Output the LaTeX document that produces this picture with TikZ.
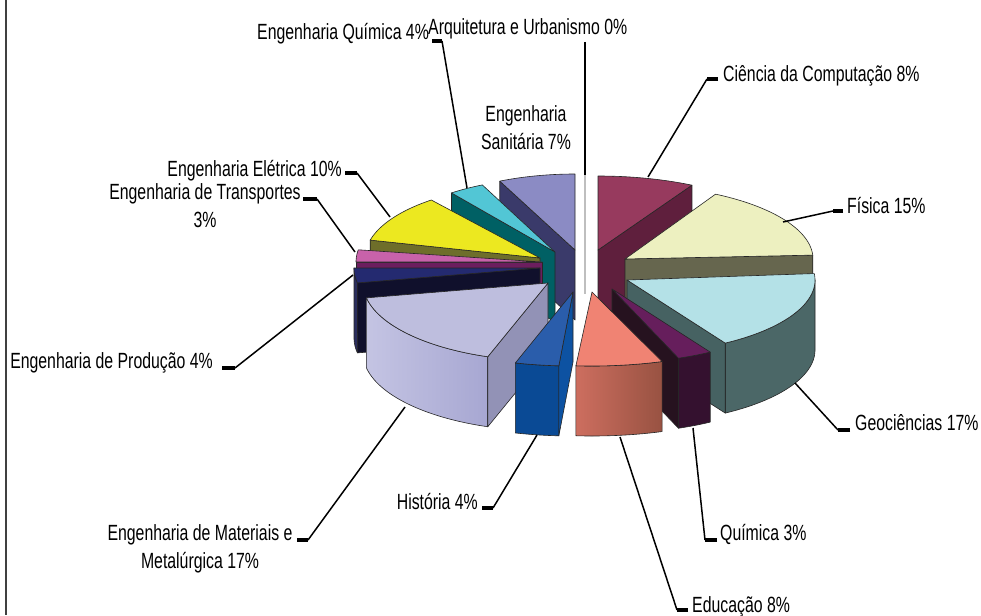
\documentclass[tikz,border=0pt]{standalone}
\usepackage{fontspec}
\setmainfont[FakeStretch=0.72]{Liberation Sans}

% slice colours: top face, radial cut face, outer wall
\definecolor{ccTop}{HTML}{973A5E}\definecolor{ccCut}{HTML}{5F1F3D}
\definecolor{fiTop}{HTML}{EDF0C0}\definecolor{fiCut}{HTML}{66664E}
\definecolor{geTop}{HTML}{B4E1E7}\definecolor{geCut}{HTML}{466262}\definecolor{geSide}{HTML}{4B6767}
\definecolor{quTop}{HTML}{661E5C}\definecolor{quCut}{HTML}{26121F}\definecolor{quSide}{HTML}{34112F}
\definecolor{edTop}{HTML}{F08373}\definecolor{edSideL}{HTML}{CD6E5F}\definecolor{edSideR}{HTML}{985242}
\definecolor{hiTop}{HTML}{2A5DAB}\definecolor{hiCut}{HTML}{0D52A2}\definecolor{hiSide}{HTML}{0A4A95}
\definecolor{emTop}{HTML}{BEBEDE}\definecolor{emCut}{HTML}{9292B6}\definecolor{emSideL}{HTML}{C4C4E3}\definecolor{emSideR}{HTML}{A7A7D2}
\definecolor{epTop}{HTML}{242A70}\definecolor{epCut}{HTML}{10102C}\definecolor{epSide}{HTML}{2B2E5E}
\definecolor{etTop}{HTML}{C862AA}\definecolor{etCut}{HTML}{6C1E5E}
\definecolor{eeTop}{HTML}{ECE820}\definecolor{eeCut}{HTML}{6E6E2A}
\definecolor{eqTop}{HTML}{52C6D5}\definecolor{eqCut}{HTML}{006064}
\definecolor{esTop}{HTML}{8B8BC4}\definecolor{esCut}{HTML}{3A3A6A}

% depth of the pie and the current slice (apex x, apex y, x radius, y radius)
\newcommand{\SH}{70}
\newcommand{\setslice}[4]{\def\SAx{#1}\def\SAy{#2}\def\SRx{#3}\def\SRy{#4}}
% top face between two angles (clockwise from the back)
\newcommand{\topface}[3]{%
  \path[face,fill=#3] (\SAx,\SAy)
    -- plot[domain=#1:#2,samples=40] ({\SAx+\SRx*sin(\x)},{\SAy-\SRy*cos(\x)}) -- cycle;}
% radial cut face at one angle
\newcommand{\cutface}[2]{%
  \path[face,fill=#2] (\SAx,\SAy)
    -- ({\SAx+\SRx*sin(#1)},{\SAy-\SRy*cos(#1)})
    -- ({\SAx+\SRx*sin(#1)},{\SAy-\SRy*cos(#1)+\SH})
    -- (\SAx,{\SAy+\SH}) -- cycle;}
% curved outer wall between two angles
\newcommand{\sideface}[3]{%
  \path[face,#3]
    plot[domain=#1:#2,samples=40] ({\SAx+\SRx*sin(\x)},{\SAy-\SRy*cos(\x)})
    -- plot[domain=0:1,samples=40] ({\SAx+\SRx*sin(#2+(#1-#2)*\x)},{\SAy-\SRy*cos(#2+(#1-#2)*\x)+\SH})
    -- cycle;}

\begin{document}
\begin{tikzpicture}[x=1pt,y=-1pt,
  face/.style={draw=black!85,line width=0.6pt,line join=round},
  lbl/.style={font=\fontsize{22}{28}\selectfont,inner sep=0pt,text=black},
  leader/.style={line width=1.5pt,black},
  tick/.style={line width=3.2pt,black}]

\useasboundingbox (0,0) rectangle (981,615);
\fill[white] (0,0) rectangle (981,615);
\draw[black!75,line width=1.5pt] (6,0) -- (6,615);

% ---- slices, back to front ----
% Ciencia da Computacao
\setslice{598}{250}{195}{74}
\cutface{28.8}{ccCut}
\topface{0}{28.8}{ccTop}
% Engenharia Sanitaria
\setslice{575}{250}{178}{76}
\cutface{335}{esCut}
\topface{335}{360}{esTop}
% Arquitetura e Urbanismo (empty slice)
\draw[black!25,line width=2.4pt] (585,175) -- (585,294);
% Engenharia Quimica
\setslice{555}{252}{172}{74}
\cutface{323}{eqCut}
\topface{323}{335}{eqTop}
% Engenharia Eletrica
\setslice{540}{258}{175}{74}
\cutface{284}{eeCut}
\topface{284}{321.6}{eeTop}
% Fisica
\setslice{625}{259}{188}{74}
\cutface{87}{fiCut}
\topface{28.8}{87}{fiTop}
% Engenharia de Transportes
\setslice{542}{262}{186}{78}
\cutface{270}{etCut}
\topface{270}{279}{etTop}
% Engenharia de Producao
\setslice{540}{268}{186}{78}
\sideface{259}{270}{fill=epSide}
\cutface{259}{epCut}
\topface{259}{270}{epTop}
% Geociencias
\setslice{627}{280}{188}{74}
\sideface{90}{148.5}{fill=geSide}
\cutface{148.5}{geCut}
\topface{85}{148.5}{geTop}
% Quimica
\setslice{612}{289}{188}{74}
\sideface{148.5}{159.3}{fill=quSide}
\cutface{159.3}{quCut}
\topface{148.5}{159.3}{quTop}
% Engenharia de Materiais e Metalurgica
\setslice{548}{283}{185}{78}
\sideface{199}{259}{left color=emSideL,right color=emSideR}
\cutface{199}{emCut}
\topface{199}{259}{emTop}
% Historia
\setslice{573}{292}{203}{74}
\sideface{184}{196.5}{fill=hiSide}
\cutface{184}{hiCut}
\topface{184}{196.5}{hiTop}
% Educacao
\setslice{592}{292}{205}{74}
\sideface{160}{184.5}{left color=edSideL,right color=edSideR}
\topface{160}{184.5}{edTop}

% ---- labels ----
\node[lbl,anchor=base west] (l-eq) at (257,40) {Engenharia Química 4\%};
\node[lbl,anchor=base west] (l-au) at (428,35) {Arquitetura e Urbanismo 0\%};
\node[lbl,align=center] (l-es) at (526,128) {Engenharia\\Sanitária 7\%};
\node[lbl,anchor=base west] (l-cc) at (723,82) {Ciência da Computação 8\%};
\node[lbl,anchor=base west] (l-fi) at (847,213) {Física 15\%};
\node[lbl,anchor=base west] (l-ge) at (855,430) {Geociências 17\%};
\node[lbl,anchor=base west] (l-qu) at (720,540) {Química 3\%};
\node[lbl,anchor=base west] (l-ed) at (692,612) {Educação 8\%};
\node[lbl,anchor=base east] (l-hi) at (478,509) {História 4\%};
\node[lbl,align=center] (l-em) at (200,549) {Engenharia de Materiais e\\Metalúrgica 17\%};
\node[lbl,anchor=base east] (l-ep) at (213,368) {Engenharia de Produção 4\%};
\node[lbl,align=center] (l-et) at (205,206) {Engenharia de Transportes\\3\%};
\node[lbl,anchor=base east] (l-ee) at (342,176) {Engenharia Elétrica 10\%};

% ---- leader lines: tick at the label, line to the slice ----
\coordinate (a-eq) at (432,41); \coordinate (b-eq) at (442,41); \coordinate (c-eq) at (467,188);
\coordinate (b-au) at (585,42); \coordinate (c-au) at (585,175);
\coordinate (a-cc) at (718,79); \coordinate (b-cc) at (707,79); \coordinate (c-cc) at (648,177);
\coordinate (a-fi) at (843,211); \coordinate (b-fi) at (833,211); \coordinate (c-fi) at (783,222);
\coordinate (a-ge) at (850,430); \coordinate (b-ge) at (838,430); \coordinate (c-ge) at (795,383);
\coordinate (a-qu) at (717,540); \coordinate (b-qu) at (705,540); \coordinate (c-qu) at (693,428);
\coordinate (a-ed) at (688,610); \coordinate (b-ed) at (677,610); \coordinate (c-ed) at (620,437);
\coordinate (a-hi) at (482,508); \coordinate (b-hi) at (493,508); \coordinate (c-hi) at (537,435);
\coordinate (a-em) at (297,540); \coordinate (b-em) at (308,540); \coordinate (c-em) at (405,407);
\coordinate (a-ep) at (222,368); \coordinate (b-ep) at (235,368); \coordinate (c-ep) at (353,275);
\coordinate (a-et) at (303,199); \coordinate (b-et) at (317,199); \coordinate (c-et) at (355,252);
\coordinate (a-ee) at (345,173); \coordinate (b-ee) at (357,173); \coordinate (c-ee) at (390,217);

\draw[leader] (b-au) -- (c-au);
\foreach \n in {eq,cc,fi,ge,qu,ed,hi,em,ep,et,ee}{
  \draw[tick] (a-\n) -- (b-\n);
  \draw[leader] (b-\n) -- (c-\n);
}
\end{tikzpicture}
\end{document}
